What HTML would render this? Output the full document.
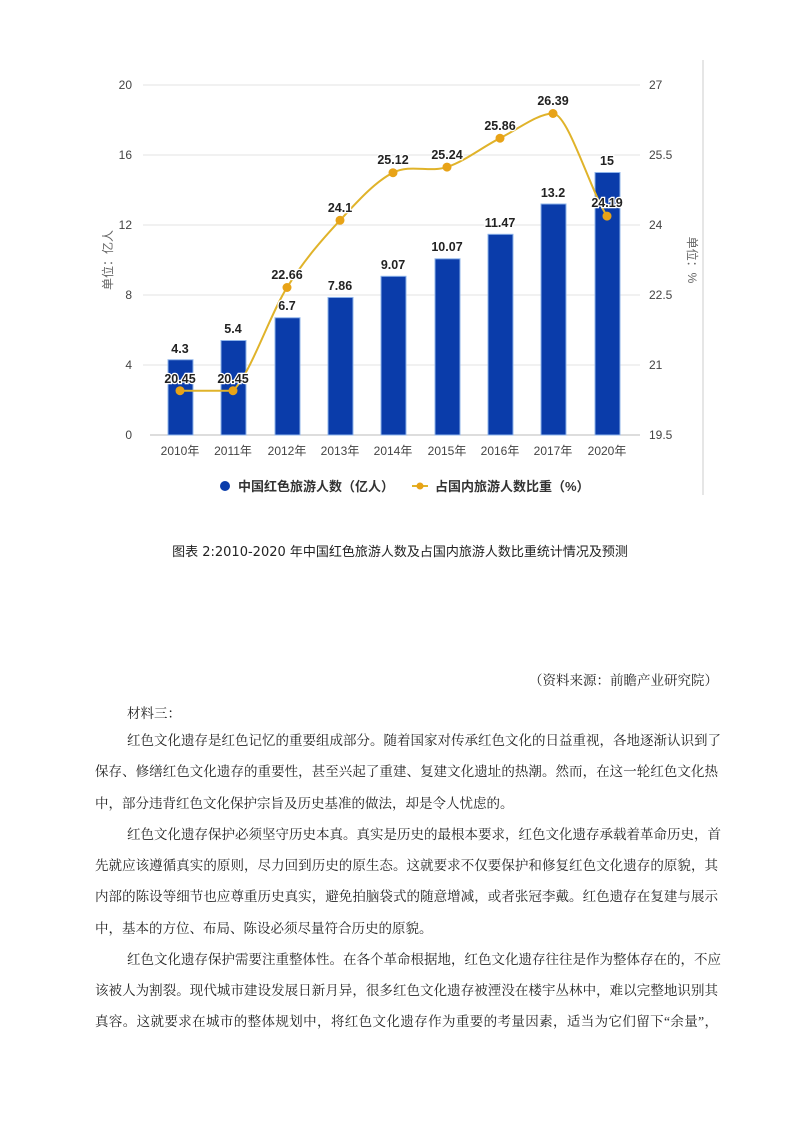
<!DOCTYPE html>
<html><head><meta charset="utf-8"><style>
body{margin:0;background:#fff;width:800px;height:1132px;position:relative;overflow:hidden}
.t{position:absolute;font-family:"Liberation Serif","Noto Serif CJK SC",serif;font-size:13.5px;line-height:20px;color:#222;white-space:nowrap}
.j{text-align:justify;text-align-last:justify}
</style></head><body>
<svg width="800" height="520" style="position:absolute;left:0;top:0" font-family="Liberation Sans, Noto Sans CJK SC, sans-serif">
<g stroke="#e3e3e3" stroke-width="1">
<line x1="143" y1="85" x2="640" y2="85"/><line x1="143" y1="155" x2="640" y2="155"/>
<line x1="143" y1="225" x2="640" y2="225"/><line x1="143" y1="295" x2="640" y2="295"/>
<line x1="143" y1="365" x2="640" y2="365"/>
</g>
<line x1="150" y1="435" x2="640" y2="435" stroke="#bbb"/>
<line x1="703" y1="60" x2="703" y2="495" stroke="#e6e6e6" stroke-width="2"/>
<g font-size="12" fill="#444">
<text x="132" y="89" text-anchor="end">20</text><text x="132" y="159" text-anchor="end">16</text>
<text x="132" y="229" text-anchor="end">12</text><text x="132" y="299" text-anchor="end">8</text>
<text x="132" y="369" text-anchor="end">4</text><text x="132" y="439" text-anchor="end">0</text>
<text x="649" y="89">27</text><text x="649" y="159">25.5</text><text x="649" y="229">24</text>
<text x="649" y="299">22.5</text><text x="649" y="369">21</text><text x="649" y="439">19.5</text>
</g>
<text transform="translate(112,260) rotate(-90)" font-size="12" fill="#666" text-anchor="middle">单位：亿人</text>
<text transform="translate(688,260) rotate(90)" font-size="12" fill="#666" text-anchor="middle">单位：%</text>
<g fill="#0a3caa" stroke="#8fb4ea" stroke-width="1">
<rect x="168" y="359.75" width="25" height="75.25"/>
<rect x="221" y="340.5" width="25" height="94.5"/>
<rect x="275" y="317.75" width="25" height="117.25"/>
<rect x="328" y="297.45" width="25" height="137.55"/>
<rect x="381" y="276.3" width="25" height="158.7"/>
<rect x="435" y="258.8" width="25" height="176.2"/>
<rect x="488" y="234.3" width="25" height="200.7"/>
<rect x="541" y="204" width="25" height="231"/>
<rect x="595" y="172.5" width="25" height="262.5"/>
</g>
<g font-size="12" fill="#444" text-anchor="middle">
<text x="180" y="455">2010年</text><text x="233" y="455">2011年</text><text x="287" y="455">2012年</text>
<text x="340" y="455">2013年</text><text x="393" y="455">2014年</text><text x="447" y="455">2015年</text>
<text x="500" y="455">2016年</text><text x="553" y="455">2017年</text><text x="607" y="455">2020年</text>
</g>
<path d="M180,390.7 C188.8,390.7 215,390.7 233,390.7 C250.8,373.5 269.2,315.9 287,287.5 C304.8,259.1 322.3,239.4 340,220.3 C357.7,201.2 375.2,181.6 393,172.7 C410.8,163.8 429.2,172.9 447,167.1 C464.8,161.3 482.3,147.1 500,138.2 C517.7,129.3 538,113.5 553,113.5 C568,113.5 590,190 607,216.1" fill="none" stroke="#e0b32a" stroke-width="2"/>
<g fill="#e8a317">
<circle cx="180" cy="390.7" r="4.5"/><circle cx="233" cy="390.7" r="4.5"/><circle cx="287" cy="287.5" r="4.5"/>
<circle cx="340" cy="220.3" r="4.5"/><circle cx="393" cy="172.7" r="4.5"/><circle cx="447" cy="167.1" r="4.5"/>
<circle cx="500" cy="138.2" r="4.5"/><circle cx="553" cy="113.5" r="4.5"/><circle cx="607" cy="216.1" r="4.5"/>
</g>
<g font-size="12.5" font-weight="bold" fill="#222" text-anchor="middle" stroke="#fff" stroke-width="2.5" paint-order="stroke">
<text x="180" y="353">4.3</text><text x="233" y="333">5.4</text><text x="287" y="310">6.7</text>
<text x="340" y="290">7.86</text><text x="393" y="269">9.07</text><text x="447" y="251">10.07</text>
<text x="500" y="227">11.47</text><text x="553" y="197">13.2</text><text x="607" y="165">15</text>
<text x="180" y="383">20.45</text><text x="233" y="383">20.45</text><text x="287" y="279">22.66</text>
<text x="340" y="212">24.1</text><text x="393" y="164">25.12</text><text x="447" y="159">25.24</text>
<text x="500" y="130">25.86</text><text x="553" y="105">26.39</text><text x="607" y="207">24.19</text>
</g>
<circle cx="225" cy="486" r="5" fill="#0a3caa"/>
<text x="238" y="491" font-size="13" font-weight="bold" fill="#333">中国红色旅游人数（亿人）</text>
<line x1="412" y1="486" x2="428" y2="486" stroke="#e0b32a" stroke-width="2"/>
<circle cx="420" cy="486" r="3.5" fill="#e8a317"/>
<text x="435" y="491" font-size="13" font-weight="bold" fill="#333">占国内旅游人数比重（%）</text>
</svg>
<div class="t" style="left:0;width:800px;top:543px;text-align:center;font-family:'DejaVu Sans','Noto Sans CJK SC',sans-serif;font-size:13px">图表 2:2010-2020 年中国红色旅游人数及占国内旅游人数比重统计情况及预测</div>
<div class="t" style="left:500px;width:218px;top:671px;text-align:right">（资料来源：前瞻产业研究院）</div>
<div class="t" style="left:127px;top:704px">材料三：</div>
<div class="t j" style="left:127px;width:591px;top:731px">红色文化遗存是红色记忆的重要组成部分。随着国家对传承红色文化的日益重视，各地逐渐认识到了</div>
<div class="t j" style="left:95px;width:623px;top:762px">保存、修缮红色文化遗存的重要性，甚至兴起了重建、复建文化遗址的热潮。然而，在这一轮红色文化热</div>
<div class="t" style="left:95px;top:794px">中，部分违背红色文化保护宗旨及历史基准的做法，却是令人忧虑的。</div>
<div class="t j" style="left:127px;width:591px;top:825px">红色文化遗存保护必须坚守历史本真。真实是历史的最根本要求，红色文化遗存承载着革命历史，首</div>
<div class="t j" style="left:95px;width:623px;top:856px">先就应该遵循真实的原则，尽力回到历史的原生态。这就要求不仅要保护和修复红色文化遗存的原貌，其</div>
<div class="t j" style="left:95px;width:623px;top:887px">内部的陈设等细节也应尊重历史真实，避免拍脑袋式的随意增减，或者张冠李戴。红色遗存在复建与展示</div>
<div class="t" style="left:95px;top:919px">中，基本的方位、布局、陈设必须尽量符合历史的原貌。</div>
<div class="t j" style="left:127px;width:591px;top:950px">红色文化遗存保护需要注重整体性。在各个革命根据地，红色文化遗存往往是作为整体存在的，不应</div>
<div class="t j" style="left:95px;width:623px;top:981px">该被人为割裂。现代城市建设发展日新月异，很多红色文化遗存被湮没在楼宇丛林中，难以完整地识别其</div>
<div class="t j" style="left:95px;width:623px;top:1012px">真容。这就要求在城市的整体规划中，将红色文化遗存作为重要的考量因素，适当为它们留下“余量”，</div>
</body></html>
